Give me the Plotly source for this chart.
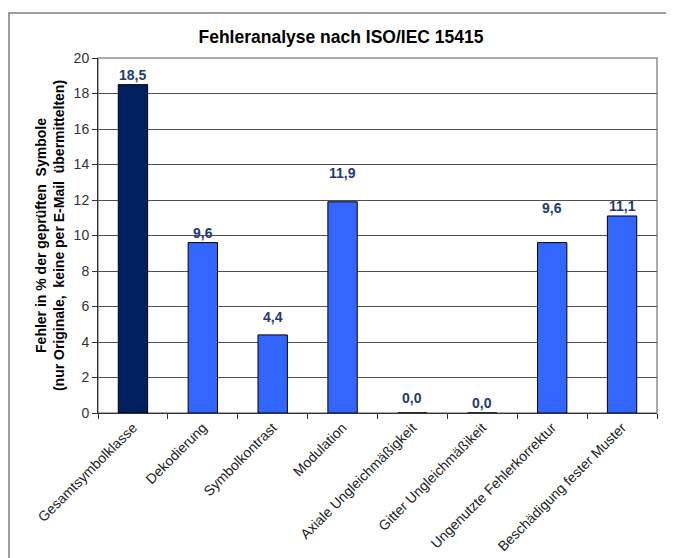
import plotly.graph_objects as go

categories = ["Gesamtsymbolklasse", "Dekodierung", "Symbolkontrast", "Modulation",
              "Axiale Ungleichmäßigkeit", "Gitter Ungleichmäßikeit",
              "Ungenutzte Fehlerkorrektur", "Beschädigung fester Muster"]
values = [18.5, 9.6, 4.4, 11.9, 0.0, 0.0, 9.6, 11.1]
labels = ["18,5", "9,6", "4,4", "11,9", "0,0", "0,0", "9,6", "11,1"]
label_shift = [0, 0, 8, 19, 5, 0, 25, 0]

colors = ["#002060"] + ["#3366FF"] * 7
FONT = "Arial, Liberation Sans, sans-serif"

# page body has an 8px margin; figure is sized/margined to compensate
W, H = 666, 550
L, R, T, B = 90, 17, 50, 145
PW, PH = W - L - R, H - T - B

fig = go.Figure()
fig.add_trace(go.Bar(
    x=categories, y=values,
    marker=dict(color=colors, line=dict(color="#000000", width=1)),
    width=0.42,
))
for c, v, t, s in zip(categories, values, labels, label_shift):
    fig.add_annotation(x=c, y=v, text="<b>%s</b>" % t, showarrow=False,
                       yanchor="bottom", yshift=s,
                       font=dict(family=FONT, size=14, color="#1F3A70"))

fig.update_layout(
    width=W, height=H,
    margin=dict(l=L, r=R, t=T, b=B),
    paper_bgcolor="white", plot_bgcolor="white",
    showlegend=False,
    title=dict(text="<b>Fehleranalyse nach ISO/IEC 15415</b>", x=(333 - L) / PW, xref="paper",
               xanchor="center",
               y=1 - 29 / H, yanchor="middle",
               font=dict(family=FONT, size=17.5, color="#000000")),
    font=dict(family=FONT, color="#000000"),
    xaxis=dict(
        tickangle=-45, tickson="boundaries", ticks="outside", ticklen=5,
        tickcolor="#333333", showline=True, linecolor="#333333", linewidth=1,
        mirror=False, showgrid=False, tickfont=dict(size=14, color="#222222"),
        automargin=False,
    ),
    yaxis=dict(
        range=[0, 20], dtick=2, ticks="outside", ticklen=5, tickcolor="#333333",
        showline=True, linecolor="#333333", linewidth=1,
        showgrid=True, gridcolor="#505050", gridwidth=1,
        tickfont=dict(size=14, color="#333333"),
        title=dict(text="<b>Fehler in % der geprüften  Symbole<br>(nur Originale,  keine per E-Mail  übermittelten)</b>",
                   font=dict(size=14, color="#000000"), standoff=5),
        zeroline=False, automargin=False,
    ),
    shapes=[
        dict(type="rect", xref="paper", yref="paper",
             x0=(1 - L) / PW, x1=(664 - L) / PW, y0=-1, y1=(PH + T - 5) / PH,
             line=dict(color="#808080", width=1.5), fillcolor="rgba(0,0,0,0)", layer="below"),
        dict(type="rect", xref="paper", yref="paper", x0=0, x1=1, y0=0, y1=1,
             line=dict(color="#909090", width=1.5), fillcolor="rgba(0,0,0,0)", layer="below"),
    ],
)

fig.write_html("out.html")
